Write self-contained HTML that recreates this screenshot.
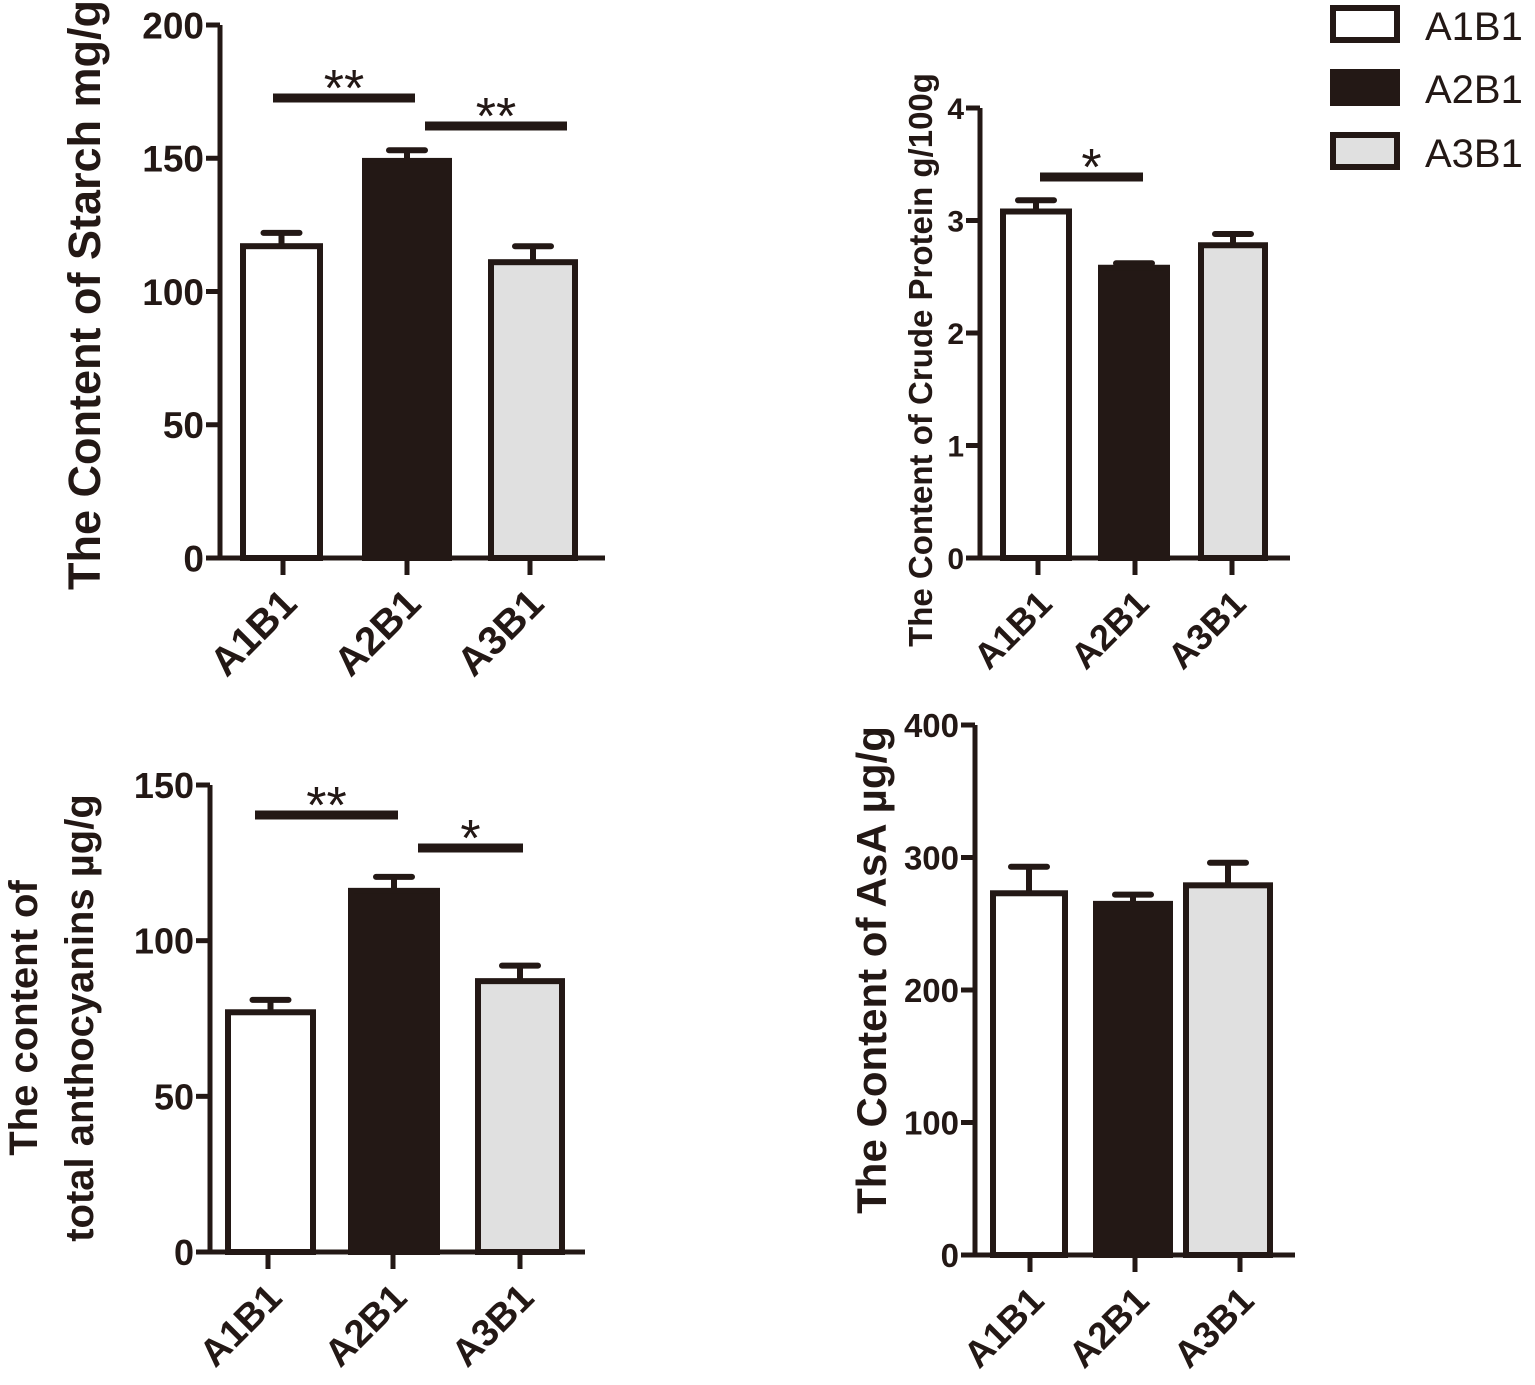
<!DOCTYPE html>
<html><head><meta charset="utf-8"><style>
body{margin:0;background:#fff}
svg{display:block}
text{font-family:"Liberation Sans",Arial,sans-serif;fill:#231815}
</style></head><body>
<svg id="c" width="1535" height="1385" viewBox="0 0 1535 1385">
<g id="legend">
<rect x="1333" y="8" width="64" height="32" fill="#fff" stroke="#231815" stroke-width="6"/>
<text x="1425" y="40" font-size="40">A1B1</text>
<rect x="1333" y="72" width="64" height="31" fill="#231815" stroke="#231815" stroke-width="6"/>
<text x="1425" y="103" font-size="40">A2B1</text>
<rect x="1333" y="135" width="64" height="32" fill="#e0e0e0" stroke="#231815" stroke-width="6"/>
<text x="1425" y="167" font-size="40">A3B1</text>
</g>
</svg>
<script>
const categories = ["A1B1","A2B1","A3B1"];
const starchValues = [117,149,111];
const starchErrors = [5,4,6];
const starchTicks = [0,50,100,150,200];
const proteinValues = [3.08,2.58,2.78];
const proteinErrors = [0.1,0.04,0.1];
const proteinTicks = [0,1,2,3,4];
const anthoValues = [77,116,87];
const anthoErrors = [4,4.5,5];
const anthoTicks = [0,50,100,150];
const asaValues = [273,265,279];
const asaErrors = [20,7,17];
const asaTicks = [0,100,200,300,400];
const fills = ["#fff","#231815","#e0e0e0"];
const INK = "#231815";
const NS = "http://www.w3.org/2000/svg";
const svg = document.getElementById("c");
function mk(tag, attrs, parent){const e=document.createElementNS(NS,tag);for(const k in attrs)e.setAttribute(k,attrs[k]);(parent||svg).appendChild(e);return e;}

function panel(cfg){
  const g = mk("g",{});
  
  
  const yMax = cfg.ticks[cfg.ticks.length-1];
  const y = v => cfg.y0 - (v/yMax)*(cfg.y0-cfg.yTop);
  const ax = mk("path",{d:`M${cfg.ax} ${cfg.yTop} V${cfg.y0} H${cfg.axEnd}`,fill:"none",stroke:INK,"stroke-width":5},g);
  
  
  cfg.ticks.forEach(t=>{
    mk("line",{x1:cfg.ax-14,x2:cfg.ax,y1:y(t),y2:y(t),stroke:INK,"stroke-width":5},g);
    const tx = mk("text",{x:cfg.ax-16,y:y(t)+cfg.tickFs*0.36,"font-size":cfg.tickFs,"font-weight":"bold","text-anchor":"end"},g);
    tx.textContent = t;
    
    
  });
  categories.forEach((c,i)=>{
    const [x1,x2] = cfg.barX[i];
    const cx = (x1+x2)/2;
    const top = y(cfg.values[i]);
    const et = y(cfg.values[i]+cfg.errors[i]);
    const er = mk("path",{d:`M${cx} ${top} V${et} M${cx-18} ${et} H${cx+18}`,stroke:INK,"stroke-width":6,"stroke-linecap":"round",fill:"none"},g);
    
    
    const b = mk("rect",{x:x1+3,y:top,width:x2-x1-6,height:cfg.y0-top,fill:fills[i],stroke:INK,"stroke-width":6},g);
    
    
    const tk = cfg.ticksX[i];
    mk("line",{x1:tk,x2:tk,y1:cfg.y0,y2:cfg.y0+17,stroke:INK,"stroke-width":5},g);
    const lt = mk("text",{x:0,y:0,"font-size":cfg.xFs,"font-weight":"bold","text-anchor":"end",transform:`translate(${tk+16},${cfg.y0+48}) rotate(-45)`},g);
    lt.textContent = c;
    
    
  });
  cfg.sig.forEach(s=>{
    const l = mk("line",{x1:s[0],x2:s[1],y1:s[2],y2:s[2],stroke:INK,"stroke-width":9},g);
    
    
    const st = mk("text",{x:(s[0]+s[1])/2,y:s[2]+8,"font-size":52,"text-anchor":"middle"},g);
    st.textContent = s[3];
    
    
  });
  cfg.titles.forEach(t=>{
    const tt = mk("text",{x:0,y:0,"font-size":t[3],"font-weight":"bold","text-anchor":"middle",transform:`translate(${t[0]},${t[1]}) rotate(-90)`},g);
    tt.textContent = t[2];
    
    
  });
}

panel({name:"starch-chart",ax:220,axEnd:605,y0:558,yTop:25,ticks:starchTicks,values:starchValues,errors:starchErrors,tickFs:37,xFs:40,
  barX:[[240,323],[362,452],[488,578]],ticksX:[283,407,530],
  sig:[[273,415,98,"**"],[425,567,126,"**"]],
  titles:[[100,295,"The Content of Starch mg/g",45]]});
panel({name:"crude-protein-chart",ax:980,axEnd:1290,y0:558,yTop:108,ticks:proteinTicks,values:proteinValues,errors:proteinErrors,tickFs:30,xFs:36,
  barX:[[1000,1072],[1098,1170],[1198,1268]],ticksX:[1038,1135,1232],
  sig:[[1040,1143,177,"*"]],
  titles:[[932,360,"The Content of Crude Protein g/100g",33]]});
panel({name:"anthocyanins-chart",ax:210,axEnd:585,y0:1252,yTop:785,ticks:anthoTicks,values:anthoValues,errors:anthoErrors,tickFs:36,xFs:38,
  barX:[[225,316],[348,440],[475,565]],ticksX:[268,393,520],
  sig:[[255,398,815,"**"],[418,523,848,"*"]],
  titles:[[37,1018,"The content of",40],[93,1018,"total anthocyanins µg/g",40]]});
panel({name:"asa-chart",ax:975,axEnd:1295,y0:1255,yTop:725,ticks:asaTicks,values:asaValues,errors:asaErrors,tickFs:33,xFs:37,
  barX:[[990,1068],[1093,1173],[1183,1273]],ticksX:[1030,1135,1240],
  sig:[],
  titles:[[886,970,"The Content of AsA µg/g",42]]});
</script>
</body></html>
